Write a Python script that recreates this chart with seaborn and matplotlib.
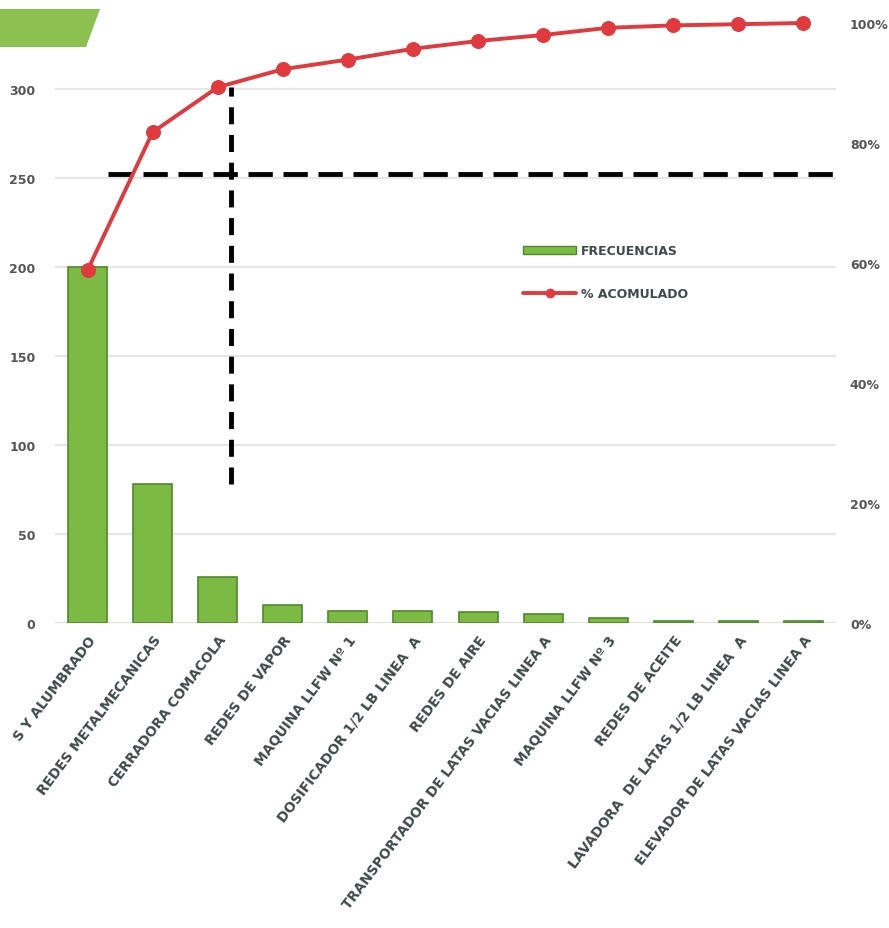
import numpy as np
import pandas as pd
import matplotlib
matplotlib.use("Agg")
import matplotlib.pyplot as plt
from matplotlib.patches import Polygon, Patch
from matplotlib.lines import Line2D
import seaborn as sns

categories = [
    "S Y ALUMBRADO",
    "REDES METALMECANICAS",
    "CERRADORA COMACOLA",
    "REDES DE VAPOR",
    "MAQUINA LLFW Nº 1",
    "DOSIFICADOR 1/2 LB LINEA  A",
    "REDES DE AIRE",
    "TRANSPORTADOR DE LATAS VACIAS LINEA A",
    "MAQUINA LLFW Nº 3",
    "REDES DE ACEITE",
    "LAVADORA  DE LATAS 1/2 LB LINEA  A",
    "ELEVADOR DE LATAS VACIAS LINEA A",
]
frecuencias = [200, 78, 26, 10, 7, 7, 6, 5, 3, 1, 1, 1]
acumulado = [58.8, 81.8, 89.3, 92.3, 93.9, 95.7, 97.0, 98.0, 99.2, 99.6, 99.8, 100.0]
left_ticks = [0, 50, 100, 150, 200, 250, 300]
right_ticks = [0, 20, 40, 60, 80, 100]
right_labels = ["0%", "20%", "40%", "60%", "80%", "100%"]

# reference (dashed) lines
h_level = 252
h_x = (0.31, 11.5)
v_pos = 2.2
v_y = (78, 301)

sns.set_theme(style="white")
plt.rcParams["font.family"] = ["DejaVu Sans"]

W, H = 889, 929
fig = plt.figure(figsize=(W / 100, H / 100), dpi=100)
ax = fig.add_axes([55 / W, (H - 624) / H, 781 / W, 619 / H])

df = pd.DataFrame({"cat": categories, "freq": frecuencias})
sns.barplot(data=df, x="cat", y="freq", ax=ax, color="#7cba44",
            width=0.6, edgecolor="#4e8a2b", linewidth=1.2, saturation=1, zorder=3)

ax.set_xlim(-0.5, 11.5)
ax.set_ylim(0, 619 / 1.78)
ax.set_yticks(left_ticks)
ax.set_yticklabels([str(t) for t in left_ticks], fontsize=9, fontweight="bold", color="#555555")
ax.tick_params(axis="y", length=0, pad=14)
ax.grid(axis="y", color="#e4e8e4", linewidth=1.6, zorder=0)
ax.set_axisbelow(True)
ax.set_xlabel("")
ax.set_ylabel("")
ax.set_xticks(range(len(categories)))
ax.set_xticklabels(categories, rotation=53, ha="right", rotation_mode="anchor",
                   fontsize=9.8, fontweight="bold", color="#3f4a4a")
ax.tick_params(axis="x", length=0, pad=7)
for s in ax.spines.values():
    s.set_visible(False)
ax.axhline(0, color="#d8e8cc", linewidth=2, zorder=2)

ax2 = ax.twinx()
sns.lineplot(x=np.arange(len(acumulado)), y=acumulado, ax=ax2, color="#e0393e",
             linewidth=2.8, marker="o", markersize=10, markeredgecolor="#e0393e", zorder=5)
ax2.set_ylim(0, 619 / 6.0)
ax2.set_yticks(right_ticks)
ax2.set_yticklabels(right_labels, fontsize=9, fontweight="bold", color="#555555")
ax2.tick_params(axis="y", length=0, pad=10)
ax2.set_ylabel("")
for s in ax2.spines.values():
    s.set_visible(False)

ax.plot(h_x, [h_level, h_level], color="black", linestyle=(0, (5, 2.2)), linewidth=3.5, zorder=6)
ax.plot([v_pos, v_pos], v_y, color="black", linestyle=(0, (3.5, 2.2)), linewidth=3.5, zorder=6)

handles = [Patch(facecolor="#7cba44", edgecolor="#4e8a2b"),
           Line2D([0], [0], color="#e0393e", linewidth=2.8, marker="o", markersize=6)]
leg = ax2.legend(handles, ["FRECUENCIAS", "% ACOMULADO"], loc="upper left",
                 bbox_to_anchor=((512 - 55) / 781, (624 - 234) / 619), frameon=False,
                 prop={"size": 9, "weight": "bold"}, labelspacing=2.4,
                 handlelength=4.2, handleheight=0.7, handletextpad=0.4)
for t in leg.get_texts():
    t.set_color("#3f4a4a")

banner = Polygon([(0, 1 - 10 / H), (100 / W, 1 - 10 / H), (86 / W, 1 - 48 / H), (0, 1 - 48 / H)],
                 closed=True, transform=fig.transFigure, facecolor="#8cc152", edgecolor="none")
fig.patches.append(banner)

fig.savefig("out.png", dpi=100)
